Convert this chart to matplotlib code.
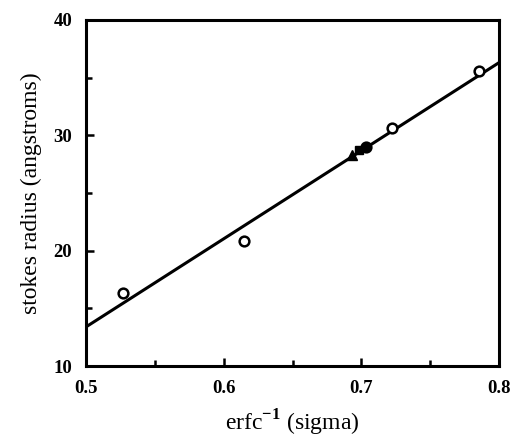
import matplotlib
matplotlib.use("Agg")
import matplotlib.pyplot as plt
from matplotlib.ticker import MultipleLocator

open_x = [0.527, 0.615, 0.703, 0.722, 0.785]
open_y = [16.3, 20.8, 29.0, 30.6, 35.6]
tri_x = [0.693]
tri_y = [28.3]
sq_x = [0.698]
sq_y = [28.7]
fill_x = [0.703]
fill_y = [29.0]
fit_x = [0.5, 0.8]
fit_y = [13.4, 36.3]

plt.rcParams['font.family'] = ['Liberation Serif', 'DejaVu Serif']
plt.rcParams['mathtext.fontset'] = 'custom'
plt.rcParams['mathtext.rm'] = 'Liberation Serif'
plt.rcParams['mathtext.bf'] = 'Liberation Serif:bold'
fig = plt.figure(figsize=(5.13, 4.41), dpi=100)
ax = fig.add_axes([0.168, 0.170, 0.805, 0.785])

ax.plot(fit_x, fit_y, color='black', lw=2.2, zorder=2)
ax.plot(open_x, open_y, 'o', mfc='white', mec='black', mew=1.8, ms=7, zorder=3)
ax.plot(tri_x, tri_y, '^', color='black', ms=7, zorder=4)
ax.plot(sq_x, sq_y, 's', color='black', ms=6, zorder=4)
ax.plot(fill_x, fill_y, 'o', color='black', ms=6, zorder=4)

ax.set_xlim(0.5, 0.8)
ax.set_ylim(10, 40)
ax.xaxis.set_major_locator(MultipleLocator(0.1))
ax.xaxis.set_minor_locator(MultipleLocator(0.05))
ax.yaxis.set_major_locator(MultipleLocator(10))
ax.yaxis.set_minor_locator(MultipleLocator(5))
ax.xaxis.set_major_formatter(plt.FuncFormatter(lambda v, p: f"{v:.1f}"))
ax.yaxis.set_major_formatter(plt.FuncFormatter(lambda v, p: f"{v:.0f}"))
ax.tick_params(which='both', direction='in', width=1.8, top=False, right=False)
ax.tick_params(which='major', length=6, labelsize=13.5, pad=10)
ax.tick_params(which='minor', length=4)
for lab in ax.get_xticklabels() + ax.get_yticklabels():
    lab.set_fontweight('bold')
for s in ax.spines.values():
    s.set_linewidth(2.2)

ax.set_xlabel(r'erfc$^{\mathbf{-1}}$ (sigma)', fontsize=17, labelpad=8)
ax.set_ylabel('stokes radius (angstroms)', fontsize=17, labelpad=8)

fig.savefig('out.png', dpi=100)
